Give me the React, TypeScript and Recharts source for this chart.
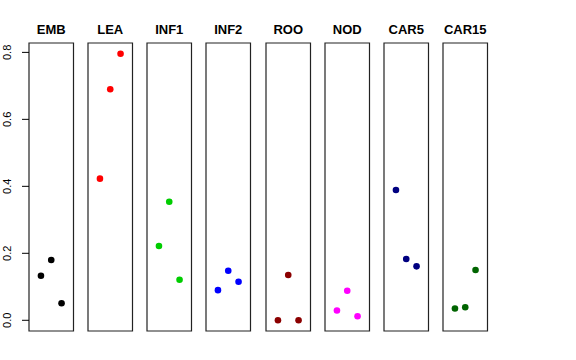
import React from 'react';
import { ScatterChart, Scatter, XAxis, YAxis, ReferenceArea, Label } from 'recharts';

const groups = ['EMB', 'LEA', 'INF1', 'INF2', 'ROO', 'NOD', 'CAR5', 'CAR15'];
const colors = ['#000000', '#FF0000', '#00CD00', '#0000FF', '#8B0000', '#FF00FF', '#000080', '#006400'];
const positions = [1, 2, 3];
const EMB = [0.133, 0.18, 0.051];
const LEA = [0.423, 0.69, 0.796];
const INF1 = [0.222, 0.354, 0.121];
const INF2 = [0.09, 0.148, 0.115];
const ROO = [0.0, 0.135, 0.0];
const NOD = [0.029, 0.088, 0.012];
const CAR5 = [0.389, 0.183, 0.161];
const CAR15 = [0.035, 0.039, 0.15];
const values = [EMB, LEA, INF1, INF2, ROO, NOD, CAR5, CAR15];
const yTicks = [0, 0.2, 0.4, 0.6, 0.8];

const xDomain: [number, number] = [-0.16, 4.16];
const yDomain: [number, number] = [-0.032, 0.828];
const font = '"Liberation Sans", Arial, Helvetica, sans-serif';

const AXIS_W = 29;
const PANEL_W = 44.5;
const STEP = 59.15;
const PAD = 3;

const Dot = (props: any) => <circle cx={props.cx} cy={props.cy} r={3.3} fill={props.fill} />;

const YTick = (props: any) => {
  const { y, payload } = props;
  return (
    <text x={11.5} y={y} transform={`rotate(-90, 11.5, ${y})`} textAnchor="middle" fontSize={11} fontFamily={font} fill="#000">
      {payload.value.toFixed(1)}
    </text>
  );
};

const Panel = ({ idx }: { idx: number }) => {
  const first = idx === 0;
  const left = first ? 0 : AXIS_W + idx * STEP - PAD;
  const data = positions.map((x, i) => ({ x, y: values[idx][i] }));
  return (
    <div style={{ position: 'absolute', left, top: 0 }}>
      <ScatterChart
        width={(first ? AXIS_W : PAD) + PANEL_W + PAD}
        height={340}
        margin={{ top: 0, right: PAD, bottom: 9, left: first ? 0 : PAD }}
      >
        <XAxis
          type="number"
          dataKey="x"
          orientation="top"
          domain={xDomain}
          allowDataOverflow
          height={43}
          axisLine={false}
          tickLine={false}
          tick={false}
        >
          <Label
            content={(p: any) => {
              const vb = p.viewBox || {};
              return (
                <text x={vb.x + vb.width / 2} y={34} textAnchor="middle" fontSize={13} fontWeight="bold" fontFamily={font} fill="#000">
                  {groups[idx]}
                </text>
              );
            }}
          />
        </XAxis>
        <YAxis
          type="number"
          dataKey="y"
          domain={yDomain}
          allowDataOverflow
          ticks={yTicks}
          hide={!first}
          width={AXIS_W}
          axisLine={false}
          tickSize={7}
          tickLine={{ stroke: '#000' }}
          tick={<YTick />}
        />
        <ReferenceArea x1={xDomain[0]} x2={xDomain[1]} y1={yDomain[0]} y2={yDomain[1]} fill="none" stroke="#222" strokeWidth={1.2} strokeOpacity={1} />
        <Scatter data={data} fill={colors[idx]} shape={<Dot />} isAnimationActive={false} />
      </ScatterChart>
    </div>
  );
};

export default function App() {
  return (
    <div style={{ position: 'absolute', left: 0, top: 0, width: 576, height: 360, background: '#fff', fontFamily: font }}>
      {groups.map((g, i) => (
        <Panel key={g} idx={i} />
      ))}
    </div>
  );
}
